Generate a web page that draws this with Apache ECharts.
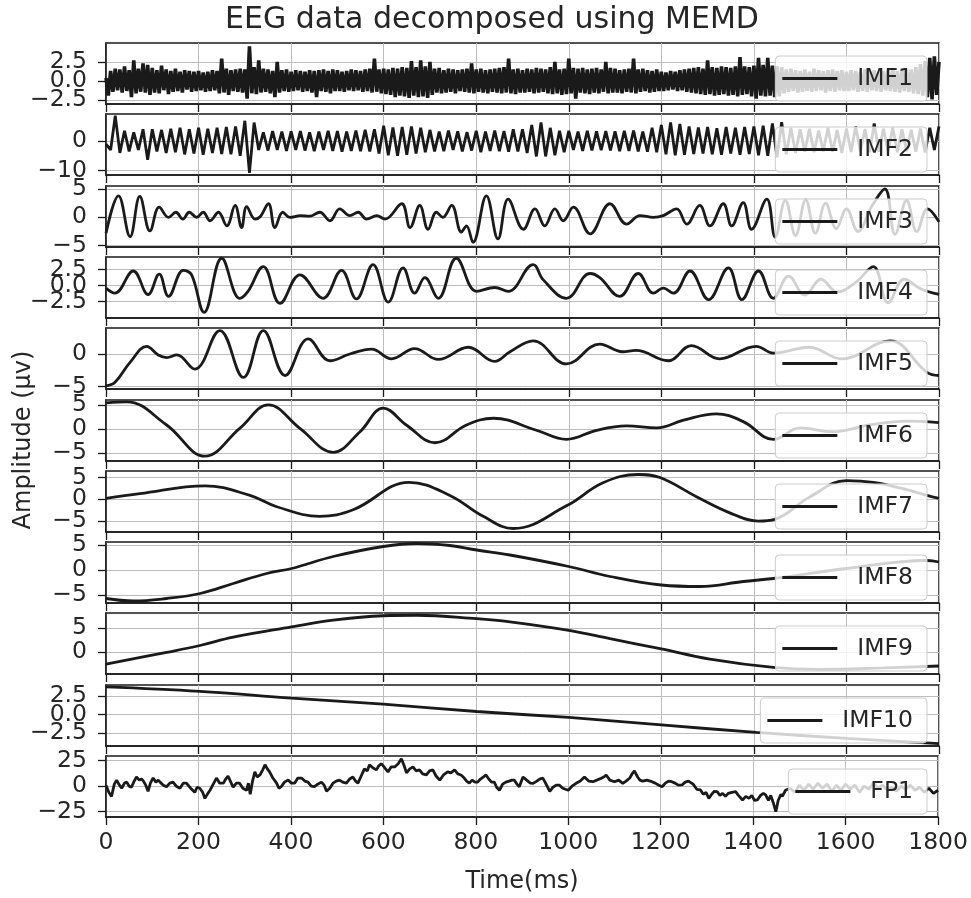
<!DOCTYPE html>
<html>
<head>
<meta charset="utf-8">
<title>EEG data decomposed using MEMD</title>
<script src="https://cdn.jsdelivr.net/npm/echarts@6/dist/echarts.min.js"></script>
<style>
  html, body { margin: 0; padding: 0; background: #fff; }
  #chart { width: 971px; height: 898px; }
</style>
</head>
<body>
<div id="chart"></div>
<script>
const seriesNames = ['IMF1', 'IMF2', 'IMF3', 'IMF4', 'IMF5', 'IMF6', 'IMF7', 'IMF8', 'IMF9', 'IMF10', 'FP1'];

// y range of every panel and its tick values
const yMin = [-3.0, -11.5, -5.23, -5.1, -5.4, -6.7, -7.5, -6.6, -4.44, -4.23, -30.2];
const yMax = [4.95, 9.2, 5.53, 4.5, 4.1, 6.0, 6.5, 5.6, 8.06, 3.96, 29.6];
const yTicks = [
    [-2.5, 0, 2.5], [-10, 0], [-5, 0, 5], [-2.5, 0, 2.5], [-5, 0], [-5, 0, 5],
    [-5, 0, 5], [-5, 0, 5], [0, 5], [-2.5, 0, 2.5], [-25, 0, 25]
];
const timeMax = 1800;
const timeStep = 200;

// IMF1: one value every 5 ms
const imf1Step = 5;
const imf1Values = [
    0.4,-1.9,1.3,-1.4,1.6,-1.2,1.5,-1.5,1.9,-1.3,1.4,-2.1,2.7,-1.6,1.6,-1.4,2.3,-1.5,2.1,-1.8,
    1.7,-1.5,1.4,-1.6,2.0,-1.2,1.5,-1.7,1.3,-1.4,1.6,-1.3,1.2,-1.5,1.4,-1.1,1.3,-1.4,1.2,-1.3,
    1.3,-1.2,1.1,-1.4,1.2,-1.3,1.4,-1.2,1.3,-1.6,2.9,-1.5,1.6,-1.8,1.4,-1.3,1.5,-1.4,1.6,-1.5,
    1.5,-2.3,4.5,-1.6,1.8,-1.7,2.7,-1.5,1.6,-1.4,1.5,-1.6,1.3,-2.1,2.5,-1.5,1.4,-1.3,1.5,-1.4,
    1.2,-1.3,1.4,-1.2,1.3,-1.4,1.2,-1.3,1.4,-1.5,1.3,-2.1,1.4,-1.3,1.5,-1.4,1.3,-1.6,1.5,-1.3,
    1.4,-1.3,1.2,-1.4,1.3,-1.2,1.5,-1.3,1.4,-1.2,1.3,-1.4,1.5,-1.3,1.6,-1.5,2.9,-1.4,1.5,-1.6,
    1.6,-1.7,1.5,-1.8,1.7,-2.1,1.6,-1.9,1.8,-2.0,1.7,-2.2,2.6,-1.9,1.8,-2.1,2.7,-2.0,1.9,-2.2,
    2.5,-1.8,1.6,-1.5,1.7,-1.6,1.4,-1.5,1.6,-1.4,1.5,-1.6,1.4,-1.3,1.5,-1.4,1.6,-1.5,2.3,-1.6,
    1.5,-1.4,1.6,-1.5,1.4,-1.6,1.5,-1.4,1.6,-1.5,1.7,-1.6,1.8,-1.5,2.9,-1.6,1.5,-1.7,1.6,-1.5,
    1.4,-1.5,1.6,-1.4,1.5,-1.6,1.7,-1.5,1.6,-1.4,1.5,-1.6,1.8,-1.7,2.5,-1.6,1.5,-1.8,1.6,-1.7,
    2.9,-1.6,1.7,-2.3,1.6,-1.5,1.7,-1.6,1.5,-1.7,1.6,-1.5,1.7,-1.6,1.5,-1.4,2.5,-1.6,1.7,-1.5,
    1.6,-1.5,1.4,-1.6,1.5,-1.4,1.6,-1.5,2.9,-1.6,1.5,-1.4,1.6,-1.3,1.4,-1.5,1.3,-1.4,1.5,-1.3,
    1.2,-1.3,1.1,-1.2,1.3,-1.1,1.2,-1.3,1.4,-1.2,1.5,-1.4,1.6,-1.5,1.7,-1.6,1.8,-1.7,1.6,-1.8,
    2.7,-1.7,1.8,-1.9,1.7,-1.8,1.9,-1.7,1.8,-1.9,1.7,-1.8,1.9,-2.0,3.1,-1.8,1.9,-1.7,1.8,-2.0,
    2.0,-2.3,3.0,-1.9,2.1,-2.0,3.0,-1.9,2.0,-2.1,1.9,-2.0,1.8,-1.6,1.5,-1.4,1.6,-1.3,1.4,-1.5,
    1.3,-1.4,1.5,-1.3,1.2,-1.4,1.6,-1.3,1.4,-1.2,1.3,-1.5,1.4,-1.3,1.5,-1.4,1.3,-1.2,1.4,-1.3,
    1.2,-1.3,1.4,-1.2,1.3,-1.4,1.2,-1.3,1.5,-1.4,1.3,-1.2,1.4,-1.3,1.2,-1.4,1.3,-1.2,1.4,-1.3,
    1.5,-1.4,1.3,-1.5,1.4,-1.3,1.6,-1.4,1.5,-1.6,1.8,-1.7,2.2,-1.9,2.6,-2.1,3.0,-2.4,3.2,-1.8,
    2.5
];

// IMF2: one value every 10 ms
const imf2Step = 10;
const imf2Values = [
    -1, -3, 8.6, -4, 3.5, -3.5, 3, -3, 4, -6.3,
    4, -3.5, 3.8, -4, 4.2, -3.8, 4.5, -4.5, 4, -4.2,
    4.5, -4.6, 4.2, -4, 4.5, -4.4, 4.8, -4.5, 5, -5,
    6.9, -10.8, 6.3, -3, 3, -3.2, 3.4, -3, 3.2, -3.3,
    3.3, -3, 3.4, -3.2, 3, -3.4, 3.2, -3, 3.5, -3.3,
    3.4, -3.6, 3.2, -3.3, 3.6, -3.4, 3.8, -3.5, 4, -4.2,
    5.2, -4.8, 4.6, -5, 4.8, -4.6, 5, -4.2, 4.5, -3.8,
    3.8, -3.5, 3.2, -3.4, 3.6, -3, 3.3, -3.5, 3.1, -3.2,
    3.5, -3.8, 3.2, -3.3, 3.6, -3.4, 3.4, -3.6, 4, -3.5,
    4, -4, 5.5, -5.2, 6.3, -5.2, 4.5, -4.8, 3.5, -3.8,
    3.5, -3, 3.2, -3.3, 3.5, -3.2, 3.3, -3.1, 3.4, -3.2,
    3.3, -3.4, 3.5, -3.3, 3.6, -3.5, 3.2, -3.6, 4.5, -3.8,
    5.5, -4.5, 6.3, -4.8, 5.8, -4.6, 5, -4.4, 4.6, -4.2,
    4.8, -4.5, 4.4, -4.6, 4.8, -4.2, 4.5, -4.6, 4.8, -4.4,
    5, -4.8, 5.2, -5, 6, -5.5, 6.4, -4.5, 4.5, -4,
    4, -3.6, 4.2, -3.8, 3.6, -3.5, 4.5, -3.6, 3.8, -4,
    4.3, -3.7, 5, -3.5, 4.1, -3.8, 6, -3.6, 4.2, -3.5,
    4.6, -3.8, 4, -3.4, 3.8, -3.6, 4.3, -3.9, 4.5, -3,
    5
];

// the slower components: [time (ms), amplitude]
const imf3Points = [[0,-2.8],[27,3.8],[52,-3.4],[73,3.7],[95,-2.4],[115,1.8],[135,0],[151,0.9],[166,-0.3],[180,0.9],[196,0],[210,0.9],[225,-0.6],[243,0.9],[261,-1.5],[279,2.1],[293,-1.8],[304,1.9],[322,-0.3],[333,0.1],[351,2.4],[365,-1.8],[382,0.9],[397,0],[420,0.3],[440,0.2],[462,0.9],[484,-0.6],[505,1.5],[527,0.3],[545,0.9],[563,-0.3],[585,0.3],[603,-0.3],[639,2.4],[657,-1.8],[678,2.1],[696,-2.1],[714,0.9],[728,0],[747,2.1],[768,-2.6],[779,-1.5],[793,-4.4],[822,3.8],[847,-3.8],[869,3.2],[902,-2.1],[927,1.5],[948,-1.5],[970,1.5],[988,-0.6],[1010,1.8],[1046,-2.9],[1089,2.4],[1125,-1.2],[1154,0.3],[1183,0],[1204,0.3],[1233,1.5],[1255,-1.2],[1283,2.1],[1305,-1.5],[1334,2.4],[1352,-1.5],[1377,2.6],[1395,-2.1],[1428,3.2],[1446,-3.5],[1468,3.0],[1490,-3.2],[1512,3.1],[1533,-2.8],[1555,2.5],[1578,-2.0],[1600,1.5],[1625,-2.5],[1655,2.0],[1683,5.0],[1705,-3.0],[1730,3.0],[1752,-2.5],[1775,1.5],[1800,-0.8]];
const imf4Points = [[0,-0.4],[19,-1.2],[59,2.3],[91,-1.4],[115,1.8],[135,-1.7],[167,2.4],[185,1.7],[212,-4.2],[250,4.3],[289,-2.0],[306,-1.0],[340,3.0],[376,-2.8],[419,1.7],[469,-2.0],[509,2.4],[541,-2.1],[577,3.3],[610,-2.6],[642,2.8],[667,-1.2],[689,1.25],[718,-2.0],[757,4.3],[801,-0.9],[840,-0.3],[869,-0.9],[923,3.3],[945,0.9],[995,-2.0],[1046,1.9],[1067,1.25],[1110,-1.7],[1150,1.9],[1183,-1.2],[1204,-0.4],[1226,-1.2],[1262,2.3],[1302,-2.2],[1345,2.8],[1374,-2.2],[1410,2.3],[1442,-2.0],[1475,1.5],[1510,-1.5],[1545,1.0],[1580,-1.0],[1620,0.5],[1658,3.0],[1690,-2.7],[1725,1.0],[1760,-0.5],[1800,-1.4]];
const imf5Points = [[0,-4.9],[19,-4.4],[52,-1.25],[88,1.25],[113,-0.1],[131,-0.5],[153,-0.1],[192,-2.3],[246,3.7],[297,-3.6],[340,3.7],[387,-3.3],[437,2.4],[484,-1.0],[527,0.05],[574,0.8],[617,-0.7],[667,0.9],[718,-0.8],[783,1.1],[840,-1.1],[873,0.4],[923,2.1],[995,-1.5],[1067,1.6],[1116,0.4],[1145,0.6],[1215,-1.0],[1265,1.35],[1326,-0.7],[1405,1.25],[1442,0.2],[1520,1.1],[1590,-0.7],[1694,2.1],[1774,-2.8],[1800,-3.3]];
const imf6Points = [[0,5.4],[45,5.6],[131,0.8],[214,-5.7],[289,0.1],[351,5.0],[419,0.1],[491,-4.9],[549,-0.6],[599,4.3],[649,0.8],[711,-2.9],[779,0.8],[837,2.2],[930,-0.3],[995,-2.2],[1060,-0.3],[1125,0.6],[1190,0.2],[1248,1.8],[1319,3.1],[1377,1.5],[1442,-2.2],[1500,0.2],[1570,-0.6],[1650,0.8],[1730,1.6],[1800,1.3]];
const imf7Points = [[0,0.2],[73,1.3],[214,3.1],[311,0.9],[369,-1.7],[462,-3.9],[534,-2.4],[655,3.9],[743,0.9],[815,-3.9],[880,-6.7],[995,-1.5],[1074,3.8],[1150,5.7],[1197,5.0],[1276,0.6],[1348,-3.1],[1410,-5.0],[1445,-4.6],[1520,0.5],[1600,4.3],[1658,3.9],[1720,2.5],[1774,0.9],[1800,0.2]];
const imf8Points = [[0,-5.7],[59,-6.2],[131,-5.7],[203,-4.7],[275,-2.7],[347,-0.7],[401,0.3],[491,2.7],[599,4.7],[671,5.3],[743,4.9],[801,4.0],[873,3.0],[1000,0.7],[1089,-1.3],[1200,-3.0],[1283,-3.3],[1377,-2.3],[1442,-1.7],[1600,0.3],[1774,1.9],[1800,1.6]];
const imf9Points = [[0,-2.4],[131,0],[203,1.4],[275,3.1],[401,5.2],[491,6.6],[599,7.5],[671,7.6],[801,6.9],[873,6.25],[1000,4.5],[1089,2.8],[1200,0.7],[1305,-1.4],[1442,-3.1],[1540,-3.5],[1680,-3.2],[1800,-2.8]];
const imf10Points = [[0,3.7],[203,3.1],[401,2.2],[599,1.4],[801,0.4],[1000,-0.4],[1200,-1.4],[1405,-2.4],[1600,-3.2],[1800,-3.9]];
const fp1Points = [[0,1],[6,-6],[12,-10],[18,2],[23,6],[29,1],[34,-2],[40,3],[45,4],[50,0],[55,-1],[61,5],[66,9],[72,6],[77,7],[81,5],[86,1],[91,-5],[96,3],[102,8],[108,4],[113,6],[117,4],[124,1],[131,-0.5],[138,3],[145,4],[152,0],[160,-2],[167,3],[174,3],[183,-2],[192,-6],[197,-1],[203,-2],[209,-6],[214,-12],[219,-8],[225,-4],[232,2],[239,8],[246,3],[254,3],[259,7],[264,10],[270,4],[275,-1],[282,3],[289,3],[296,-2],[304,-4],[308,3],[312,-8],[317,5],[322,14],[327,9],[333,11],[339,16],[344,21],[349,17],[354,14],[361,8],[369,3],[374,-2],[379,-0.5],[386,4],[394,6],[401,3],[408,3],[415,8],[423,8],[430,5],[437,4],[444,0],[451,-0.5],[458,2],[466,4],[472,1],[477,-5],[484,-2],[491,3],[498,5],[505,6],[512,4],[520,3],[527,7],[534,9],[540,5],[545,3],[552,10],[559,17],[565,15],[570,21],[577,18],[585,16],[590,20],[596,22],[603,18],[610,14],[617,19],[625,19],[632,22],[639,27],[645,20],[650,13],[657,17],[664,19],[671,15],[678,16],[685,12],[693,11],[700,15],[707,16],[714,10],[722,6],[730,11],[739,14],[746,13],[754,16],[761,12],[768,11],[775,8],[780,5],[786,3],[792,6],[798,4],[804,4],[810,7],[816,9],[822,11],[828,7],[834,4],[840,4],[845,-1],[851,-4],[858,2],[865,4],[872,5],[878,6],[883,6],[889,2],[894,-0.5],[902,9],[910,6],[918,3],[924,2.8],[932,5],[938,7],[945,8],[952,2],[960,-5],[967,-1],[974,1],[981,1],[988,-2],[994,-3],[1000,-4],[1008,0],[1017,2.8],[1026,5],[1035,9],[1044,5],[1053,4.4],[1062,6],[1071,7.7],[1077,9],[1082,11],[1090,6],[1100,4.4],[1109,6],[1118,2.8],[1125,5],[1133,8],[1138,12],[1143,15],[1150,9],[1155,6],[1161,5],[1170,6],[1181,4.4],[1188,3],[1196,1],[1203,-0.5],[1210,3],[1217,5],[1224,4.4],[1231,3],[1238,1],[1246,1.2],[1253,4],[1260,5],[1264,4.4],[1270,2],[1278,-3],[1286,-3.7],[1292,-8],[1298,-6],[1304,-12],[1310,-8],[1316,-5],[1322,-5.4],[1328,-9],[1334,-7],[1340,-10],[1346,-7],[1354,-6],[1362,-5.4],[1368,-9],[1377,-13.5],[1384,-10],[1391,-12],[1397,-9],[1403,-14],[1409,-13.5],[1416,-9],[1422,-7],[1427,-8.6],[1433,-14],[1438,-9],[1444,-17],[1449,-25],[1454,-14],[1460,-8],[1463,-10],[1470,-4],[1480,-2],[1490,-6],[1500,1],[1510,-4],[1520,2],[1530,-3],[1540,3],[1550,-2],[1560,2],[1570,-5],[1580,1],[1590,-4],[1600,2],[1610,-3],[1620,1],[1630,-6],[1640,0],[1650,-3],[1660,3],[1670,-2],[1680,1],[1690,-4],[1700,-1],[1710,-5],[1720,0],[1730,-3],[1740,1],[1750,-4],[1760,-1],[1770,-6],[1780,-2],[1790,-7],[1800,-4]];

function toPairs(values, step) {
    return values.map((v, i) => [i * step, v]);
}

const seriesData = [
    toPairs(imf1Values, imf1Step), toPairs(imf2Values, imf2Step),
    imf3Points, imf4Points, imf5Points, imf6Points, imf7Points,
    imf8Points, imf9Points, imf10Points, fp1Points
];

const FONT = 'DejaVu Sans';
const INK = '#262626';
const LINE = '#1a1a1a';
const SPINE = '#1a1a1a';
const GRID_GRAY = '#bdbdbd';

const PLOT_LEFT = 106;
const PLOT_WIDTH = 833;
const PANEL_TOP = 43;
const PANEL_STEP = 71.3;
const PANEL_HEIGHT = 61;

function tickText(v, decimals) {
    let s = Math.abs(v).toFixed(decimals);
    return v < 0 ? '\u2212' + s : s;
}

function labelStyle(values, decimals) {
    return {
        customValues: values,
        showMinLabel: true, showMaxLabel: true, hideOverlap: false,
        fontSize: 23.5, fontFamily: FONT, color: INK, margin: 19,
        formatter: v => tickText(v, decimals)
    };
}

let grids = [], xAxes = [], yAxes = [], series = [], legends = [];
const last = seriesNames.length - 1;

for (let i = 0; i < seriesNames.length; i++) {
    let top = Math.round(PANEL_TOP + i * PANEL_STEP);
    let ticks = yTicks[i];
    let decimals = ticks.some(t => t % 1 !== 0) ? 1 : 0;
    // the tick labels overlap in some panels, so they are split over two axes
    let evenTicks = ticks.filter((t, k) => k % 2 === 0);
    let oddTicks = ticks.filter((t, k) => k % 2 === 1);

    grids.push({
        left: PLOT_LEFT, width: PLOT_WIDTH, top: top, height: PANEL_HEIGHT,
        show: true, borderColor: SPINE, borderWidth: 1.5, backgroundColor: 'transparent'
    });

    xAxes.push({
        gridIndex: i,
        type: 'value',
        min: 0, max: timeMax, interval: timeStep,
        axisLine: { show: true, onZero: false, lineStyle: { color: SPINE, width: 1.5 } },
        axisTick: { show: true, length: 8, lineStyle: { color: SPINE, width: 1.3 } },
        axisLabel: {
            show: i === last, fontSize: 23.5, fontFamily: FONT, color: INK, margin: 14,
            formatter: v => String(v)
        },
        splitLine: { show: true, lineStyle: { color: GRID_GRAY, width: 1 } },
        name: i === last ? 'Time(ms)' : '',
        nameLocation: 'middle',
        nameGap: 53,
        nameTextStyle: { fontSize: 24, fontFamily: FONT, color: INK }
    });

    yAxes.push({
        gridIndex: i,
        type: 'value',
        min: yMin[i], max: yMax[i],
        axisLine: { show: true, onZero: false, lineStyle: { color: SPINE, width: 1.5 } },
        axisTick: {
            show: true, length: 8, customValues: ticks,
            lineStyle: { color: SPINE, width: 1.3 }
        },
        axisLabel: labelStyle(evenTicks, decimals),
        splitLine: { show: true, lineStyle: { color: GRID_GRAY, width: 1 } }
    });

    yAxes.push({
        gridIndex: i,
        type: 'value',
        position: 'left',
        min: yMin[i], max: yMax[i],
        axisLine: { show: false },
        axisTick: { show: false },
        axisLabel: Object.assign(labelStyle(oddTicks, decimals), { show: oddTicks.length > 0 }),
        splitLine: { show: false }
    });

    series.push({
        name: seriesNames[i],
        type: 'line',
        xAxisIndex: i,
        yAxisIndex: 2 * i,
        data: seriesData[i],
        showSymbol: false,
        smooth: i >= 2 && i <= 9 ? 0.4 : false,
        itemStyle: { color: LINE },
        lineStyle: { color: LINE, width: i === 0 ? 3.6 : 2.8 },
        silent: true
    });

    legends.push({
        data: [seriesNames[i]],
        selectedMode: false,
        right: 44,
        top: top + 13,
        orient: 'horizontal',
        icon: 'rect',
        itemWidth: 55,
        itemHeight: 3,
        padding: [10, 14, 10, 7],
        backgroundColor: 'rgba(255,255,255,0.8)',
        borderColor: '#cccccc',
        borderWidth: 1,
        borderRadius: 4,
        textStyle: {
            fontSize: 23.5, fontFamily: FONT, color: INK,
            lineHeight: 25, padding: [0, 0, 0, 15]
        }
    });
}

let chart = echarts.init(document.getElementById('chart'));

let option = {
    animation: false,
    backgroundColor: '#ffffff',
    grid: grids,
    xAxis: xAxes,
    yAxis: yAxes,
    legend: legends,
    series: series,
    graphic: [
        {
            type: 'text', x: 492, y: 20,
            style: {
                text: 'EEG data decomposed using MEMD',
                fontSize: 30, fontFamily: FONT, fill: INK,
                textAlign: 'center', textVerticalAlign: 'middle'
            }
        },
        {
            type: 'text', x: 24, y: 440, rotation: Math.PI / 2,
            style: {
                text: 'Amplitude (\u00b5v)',
                fontSize: 24, fontFamily: FONT, fill: INK,
                textAlign: 'center', textVerticalAlign: 'middle'
            }
        }
    ]
};

chart.setOption(option);
</script>
</body>
</html>
